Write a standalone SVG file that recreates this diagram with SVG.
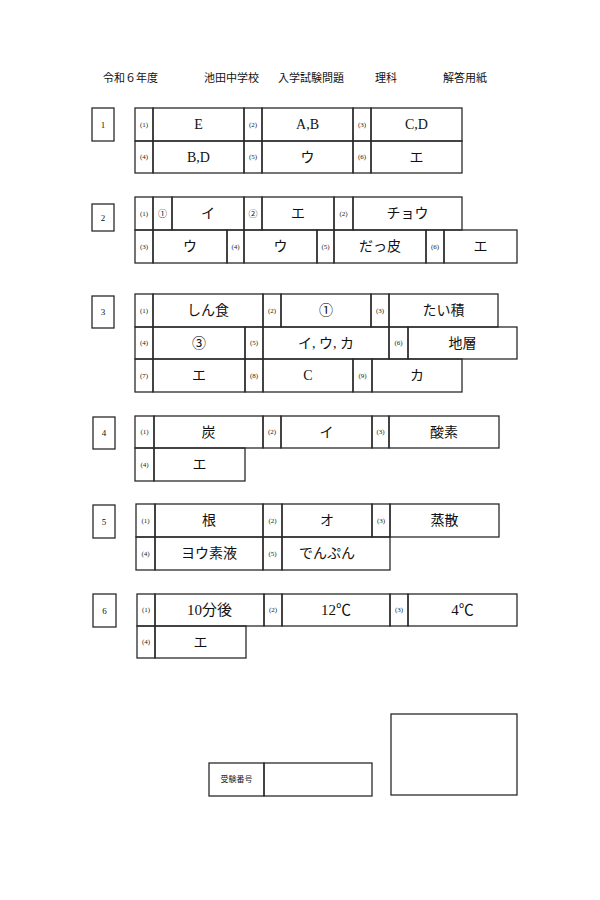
<svg xmlns="http://www.w3.org/2000/svg" width="600" height="900" viewBox="0 0 600 900">
<style>
.c{fill:none;stroke:#2a2a2a;stroke-width:1.3}
.h{font-family:"Liberation Serif","Noto Sans CJK JP",serif;font-size:11px;fill:#111}
.n{font-family:"Liberation Serif","Noto Sans CJK JP",serif;font-size:7px;fill:#222;text-anchor:middle;dominant-baseline:central}
.a{font-family:"Liberation Serif","Noto Sans CJK JP",serif;font-size:14px;fill:#111;text-anchor:middle;dominant-baseline:central}
.l{font-family:"Liberation Serif","Noto Sans CJK JP",serif;font-size:9px;fill:#111;text-anchor:middle;dominant-baseline:central}
</style>
<rect width="600" height="900" fill="#fff"/>
<g id="header">
<text class="h" x="103" y="82">令和６年度</text>
<text class="h" x="204" y="82">池田中学校</text>
<text class="h" x="278" y="82">入学試験問題</text>
<text class="h" x="375" y="82">理科</text>
<text class="h" x="443" y="82">解答用紙</text>
</g>
<g id="q1">
<rect class="c" x="92" y="108" width="22" height="33"/><text class="l" x="103" y="125">1</text>
<rect class="c" x="135" y="108" width="18" height="33"/><text class="n" x="144" y="124.5">(1)</text>
<rect class="c" x="153" y="108" width="91" height="33"/><text class="a" x="198.5" y="124.5">E</text>
<rect class="c" x="244" y="108" width="18" height="33"/><text class="n" x="253" y="124.5">(2)</text>
<rect class="c" x="262" y="108" width="91" height="33"/><text class="a" x="307.5" y="124.5">A,B</text>
<rect class="c" x="353" y="108" width="18" height="33"/><text class="n" x="362" y="124.5">(3)</text>
<rect class="c" x="371" y="108" width="91" height="33"/><text class="a" x="416.5" y="124.5">C,D</text>
<rect class="c" x="135" y="141" width="18" height="32"/><text class="n" x="144" y="157">(4)</text>
<rect class="c" x="153" y="141" width="91" height="32"/><text class="a" x="198.5" y="157">B,D</text>
<rect class="c" x="244" y="141" width="18" height="32"/><text class="n" x="253" y="157">(5)</text>
<rect class="c" x="262" y="141" width="91" height="32"/><text class="a" x="307.5" y="157">ウ</text>
<rect class="c" x="353" y="141" width="18" height="32"/><text class="n" x="362" y="157">(6)</text>
<rect class="c" x="371" y="141" width="91" height="32"/><text class="a" x="416.5" y="157">エ</text>
</g>
<g id="q2">
<rect class="c" x="92" y="204" width="22" height="27"/><text class="l" x="103" y="217.5">2</text>
<rect class="c" x="135" y="197" width="18" height="33"/><text class="n" x="144" y="213.5">(1)</text>
<rect class="c" x="153" y="197" width="19" height="33"/><text class="n" x="162.5" y="213.5" style="font-size:9px">①</text>
<rect class="c" x="172" y="197" width="72" height="33"/><text class="a" x="208" y="213.5">イ</text>
<rect class="c" x="244" y="197" width="18" height="33"/><text class="n" x="253" y="213.5" style="font-size:9px">②</text>
<rect class="c" x="262" y="197" width="72" height="33"/><text class="a" x="298" y="213.5">エ</text>
<rect class="c" x="334" y="197" width="19" height="33"/><text class="n" x="343.5" y="213.5">(2)</text>
<rect class="c" x="353" y="197" width="109" height="33"/><text class="a" x="407.5" y="213.5">チョウ</text>
<rect class="c" x="135" y="230" width="18" height="33"/><text class="n" x="144" y="246.5">(3)</text>
<rect class="c" x="153" y="230" width="74" height="33"/><text class="a" x="190" y="246.5">ウ</text>
<rect class="c" x="227" y="230" width="17" height="33"/><text class="n" x="235.5" y="246.5">(4)</text>
<rect class="c" x="244" y="230" width="73" height="33"/><text class="a" x="280.5" y="246.5">ウ</text>
<rect class="c" x="317" y="230" width="17" height="33"/><text class="n" x="325.5" y="246.5">(5)</text>
<rect class="c" x="334" y="230" width="92" height="33"/><text class="a" x="380" y="246.5">だっ皮</text>
<rect class="c" x="426" y="230" width="18" height="33"/><text class="n" x="435" y="246.5">(6)</text>
<rect class="c" x="444" y="230" width="73" height="33"/><text class="a" x="480.5" y="246.5">エ</text>
</g>
<g id="q3">
<rect class="c" x="92" y="296" width="22" height="32"/><text class="l" x="103" y="312">3</text>
<rect class="c" x="135" y="294" width="18" height="33"/><text class="n" x="144" y="310.5">(1)</text>
<rect class="c" x="153" y="294" width="110" height="33"/><text class="a" x="208" y="310.5">しん食</text>
<rect class="c" x="263" y="294" width="18" height="33"/><text class="n" x="272" y="310.5">(2)</text>
<rect class="c" x="281" y="294" width="90" height="33"/><text class="a" x="326" y="310.5">①</text>
<rect class="c" x="371" y="294" width="18" height="33"/><text class="n" x="380" y="310.5">(3)</text>
<rect class="c" x="389" y="294" width="109" height="33"/><text class="a" x="443.5" y="310.5">たい積</text>
<rect class="c" x="135" y="327" width="18" height="32"/><text class="n" x="144" y="343">(4)</text>
<rect class="c" x="153" y="327" width="92" height="32"/><text class="a" x="199" y="343">③</text>
<rect class="c" x="245" y="327" width="18" height="32"/><text class="n" x="254" y="343">(5)</text>
<rect class="c" x="263" y="327" width="126" height="32"/><text class="a" x="326" y="343">イ, ウ, カ</text>
<rect class="c" x="389" y="327" width="19" height="32"/><text class="n" x="398.5" y="343">(6)</text>
<rect class="c" x="408" y="327" width="109" height="32"/><text class="a" x="462.5" y="343">地層</text>
<rect class="c" x="135" y="359" width="18" height="33"/><text class="n" x="144" y="375.5">(7)</text>
<rect class="c" x="153" y="359" width="92" height="33"/><text class="a" x="199" y="375.5">エ</text>
<rect class="c" x="245" y="359" width="18" height="33"/><text class="n" x="254" y="375.5">(8)</text>
<rect class="c" x="263" y="359" width="90" height="33"/><text class="a" x="308" y="375.5">C</text>
<rect class="c" x="353" y="359" width="19" height="33"/><text class="n" x="362.5" y="375.5">(9)</text>
<rect class="c" x="372" y="359" width="90" height="33"/><text class="a" x="417" y="375.5">カ</text>
</g>
<g id="q4">
<rect class="c" x="93" y="417" width="22" height="32"/><text class="l" x="104" y="433">4</text>
<rect class="c" x="135" y="416" width="19" height="32"/><text class="n" x="144.5" y="432">(1)</text>
<rect class="c" x="154" y="416" width="109" height="32"/><text class="a" x="208.5" y="432">炭</text>
<rect class="c" x="263" y="416" width="18" height="32"/><text class="n" x="272" y="432">(2)</text>
<rect class="c" x="281" y="416" width="91" height="32"/><text class="a" x="326.5" y="432">イ</text>
<rect class="c" x="372" y="416" width="17" height="32"/><text class="n" x="380.5" y="432">(3)</text>
<rect class="c" x="389" y="416" width="110" height="32"/><text class="a" x="444" y="432">酸素</text>
<rect class="c" x="135" y="448" width="19" height="33"/><text class="n" x="144.5" y="464.5">(4)</text>
<rect class="c" x="154" y="448" width="91" height="33"/><text class="a" x="199.5" y="464.5">エ</text>
</g>
<g id="q5">
<rect class="c" x="93" y="505" width="22" height="33"/><text class="l" x="104" y="521.5">5</text>
<rect class="c" x="136" y="504" width="19" height="33"/><text class="n" x="145.5" y="520.5">(1)</text>
<rect class="c" x="155" y="504" width="108" height="33"/><text class="a" x="209" y="520.5">根</text>
<rect class="c" x="263" y="504" width="19" height="33"/><text class="n" x="272.5" y="520.5">(2)</text>
<rect class="c" x="282" y="504" width="90" height="33"/><text class="a" x="327" y="520.5">オ</text>
<rect class="c" x="372" y="504" width="18" height="33"/><text class="n" x="381" y="520.5">(3)</text>
<rect class="c" x="390" y="504" width="109" height="33"/><text class="a" x="444.5" y="520.5">蒸散</text>
<rect class="c" x="136" y="537" width="19" height="33"/><text class="n" x="145.5" y="553.5">(4)</text>
<rect class="c" x="155" y="537" width="108" height="33"/><text class="a" x="209" y="553.5">ヨウ素液</text>
<rect class="c" x="263" y="537" width="19" height="33"/><text class="n" x="272.5" y="553.5">(5)</text>
<rect class="c" x="282" y="537" width="108" height="33"/><text class="a" x="327" y="553.5">でんぷん</text>
</g>
<g id="q6">
<rect class="c" x="93" y="594" width="23" height="33"/><text class="l" x="104.5" y="610.5">6</text>
<rect class="c" x="137" y="594" width="18" height="32"/><text class="n" x="146" y="610">(1)</text>
<rect class="c" x="155" y="594" width="109" height="32"/><text class="a" x="209.5" y="610" style="font-size:15px">10分後</text>
<rect class="c" x="264" y="594" width="18" height="32"/><text class="n" x="273" y="610">(2)</text>
<rect class="c" x="282" y="594" width="108" height="32"/><text class="a" x="336" y="610" style="font-size:15px">12℃</text>
<rect class="c" x="390" y="594" width="18" height="32"/><text class="n" x="399" y="610">(3)</text>
<rect class="c" x="408" y="594" width="109" height="32"/><text class="a" x="462.5" y="610" style="font-size:15px">4℃</text>
<rect class="c" x="137" y="626" width="18" height="32"/><text class="n" x="146" y="642">(4)</text>
<rect class="c" x="155" y="626" width="91" height="32"/><text class="a" x="200.5" y="642">エ</text>
</g>
<g id="exam-number">
<rect class="c" x="209" y="763" width="55" height="33"/><text class="n" x="236.5" y="779.5" style="font-size:8px">受験番号</text>
<rect class="c" x="264" y="763" width="108" height="33"/>
</g>
<g id="score-box">
<rect class="c" x="391" y="714" width="126" height="81"/>
</g>
</svg>
